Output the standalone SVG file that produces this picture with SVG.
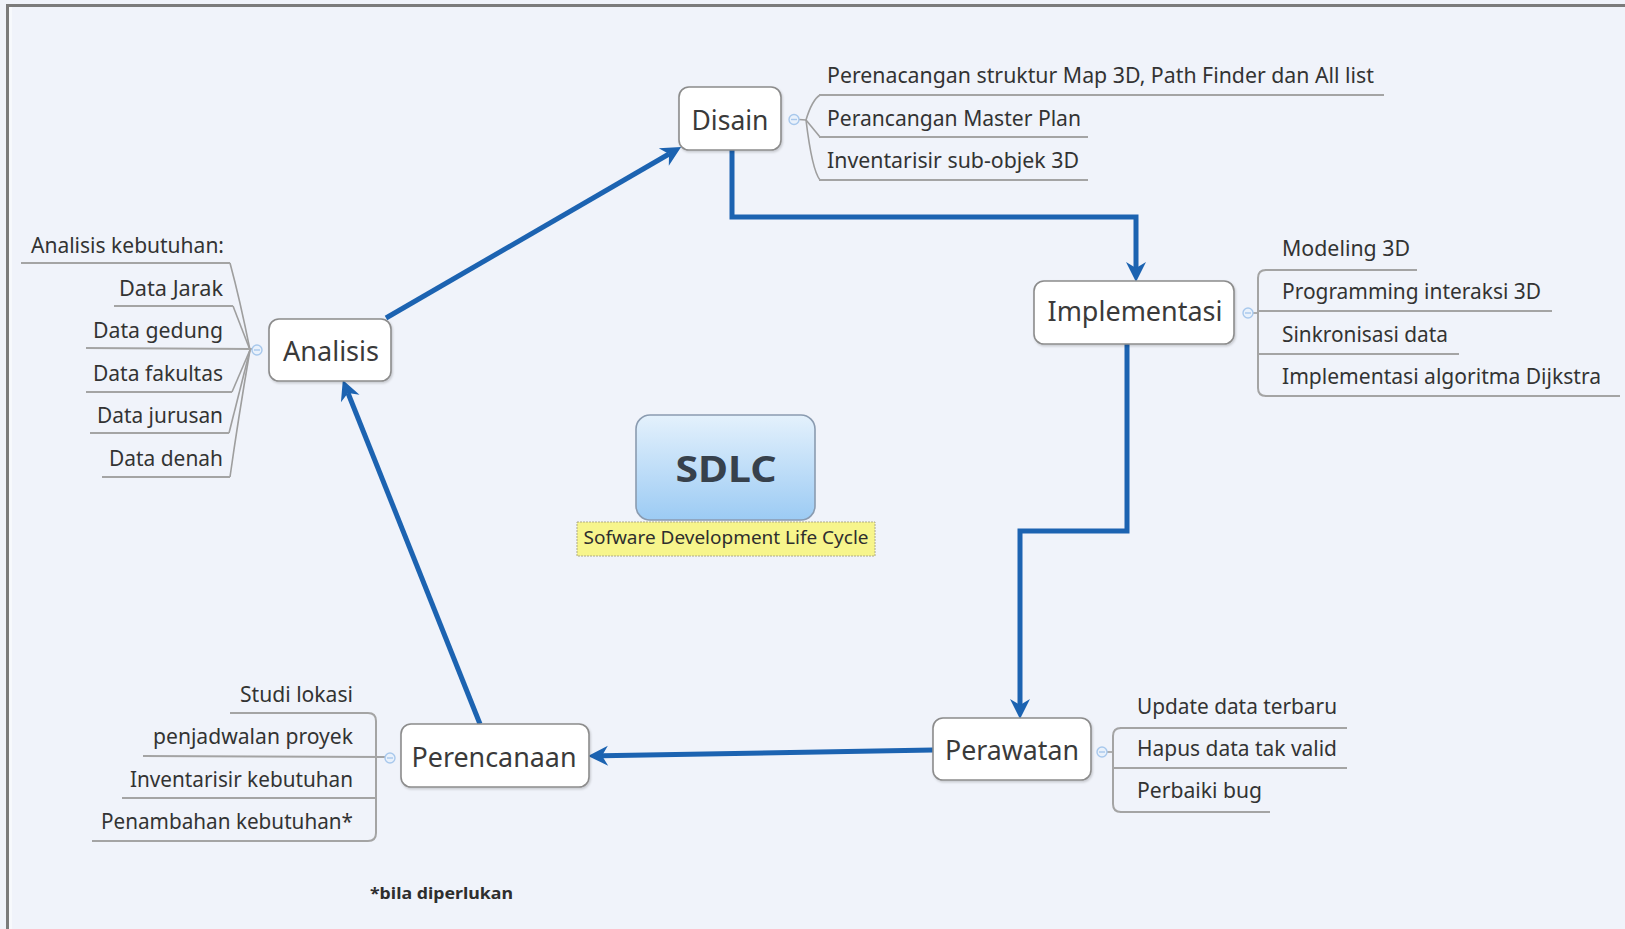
<svg xmlns="http://www.w3.org/2000/svg" width="1625" height="929" viewBox="0 0 1625 929">
  <style>
    .topic { fill: #ffffff; stroke: #8c8c8c; stroke-width: 1.6; filter: url(#shadow); }
    .topic-text { font-family: "Noto Sans", "Open Sans", sans-serif; font-size: 27px; fill: #3a3a3a; text-anchor: middle; }
    .item { font-family: "Noto Sans", "Open Sans", sans-serif; font-size: 21px; fill: #333333; }
    .item-r { text-anchor: end; }
    .branch { fill: none; stroke: #9e9e9e; stroke-width: 1.6; }
    .under { fill: none; stroke: #a4a4a4; stroke-width: 2; }
    .toggle { fill: #e9f1fb; stroke: #a8c8ec; stroke-width: 1.4; }
    .toggle-bar { stroke: #a8c8ec; stroke-width: 1.4; }
    .conn { fill: none; stroke: #1c63b1; stroke-width: 5; stroke-linejoin: miter; marker-end: url(#arrow); }
  </style>
  <defs>
    <marker id="arrow" markerUnits="userSpaceOnUse" markerWidth="20" markerHeight="20" refX="6" refY="10" orient="auto" overflow="visible">
      <path d="M0,0 L20,10 L0,20 L6,10 Z" fill="#1c63b1"/>
    </marker>
    <linearGradient id="sdlcFill" x1="0" y1="0" x2="0" y2="1">
      <stop offset="0" stop-color="#e4f1fc"/>
      <stop offset="1" stop-color="#9ccbf4"/>
    </linearGradient>
    <filter id="shadow" x="-10%" y="-10%" width="125%" height="130%">
      <feDropShadow dx="1" dy="1.5" stdDeviation="1.2" flood-color="#000000" flood-opacity="0.18"/>
    </filter>
  </defs>

  <!-- canvas and window frame -->
  <rect x="0" y="0" width="1625" height="929" fill="#f0f3fa"/>
  <line x1="6" y1="5.5" x2="1625" y2="5.5" stroke="#7b7b7b" stroke-width="3"/>
  <line x1="7.5" y1="4" x2="7.5" y2="929" stroke="#7b7b7b" stroke-width="3"/>
  <line x1="10.5" y1="7" x2="10.5" y2="929" stroke="#f7f9fc" stroke-width="3"/>

  <!-- cycle connectors -->
  <g id="connectors">
    <path class="conn" d="M386,318 L669,154"/>
    <path class="conn" d="M732,150 V217 H1136 V268"/>
    <path class="conn" d="M1127,344 V531 H1020 V705"/>
    <path class="conn" d="M933,750 L602,755.8"/>
    <path class="conn" d="M480,724 L348,393"/>
  </g>

  <!-- central topic -->
  <g id="sdlc">
    <rect x="636" y="415" width="179" height="105" rx="14" fill="url(#sdlcFill)" stroke="#8a9bb0" stroke-width="1.6"/>
    <text x="726" y="482" font-family="Noto Sans, Open Sans, sans-serif" font-size="36" font-weight="bold" fill="#37414c" text-anchor="middle" textLength="101" lengthAdjust="spacingAndGlyphs">SDLC</text>
    <rect x="577" y="522" width="298" height="34" fill="#f7f58c" stroke="#aeaa86" stroke-width="1" stroke-dasharray="2 1"/>
    <text x="726" y="544" font-family="Noto Sans, Open Sans, sans-serif" font-size="18" fill="#2e2e2e" text-anchor="middle" textLength="285" lengthAdjust="spacingAndGlyphs">Sofware Development Life Cycle</text>
  </g>

  <!-- Disain -->
  <g id="disain">
    <rect class="topic" x="679" y="87" width="102" height="63" rx="10"/>
    <text class="topic-text" x="730" y="130" textLength="77" lengthAdjust="spacingAndGlyphs">Disain</text>
    <line class="branch" x1="799" y1="119.5" x2="806" y2="120"/>
    <path class="branch" d="M806,120 Q812,100 820,95"/>
    <path class="branch" d="M806,120 L820,137"/>
    <path class="branch" d="M806,120 Q812,170 820,180"/>
    <circle class="toggle" cx="794" cy="119.5" r="5"/>
    <line class="toggle-bar" x1="791" y1="119.5" x2="797" y2="119.5"/>
    <line class="under" x1="819" y1="95" x2="1384" y2="95"/>
    <line class="under" x1="819" y1="137" x2="1088" y2="137"/>
    <line class="under" x1="819" y1="180" x2="1088" y2="180"/>
    <text class="item" x="827" y="83" textLength="547" lengthAdjust="spacingAndGlyphs">Perenacangan struktur Map 3D, Path Finder dan All list</text>
    <text class="item" x="827" y="125.5" textLength="254" lengthAdjust="spacingAndGlyphs">Perancangan Master Plan</text>
    <text class="item" x="827" y="168" textLength="252" lengthAdjust="spacingAndGlyphs">Inventarisir sub-objek 3D</text>
  </g>

  <!-- Analisis -->
  <g id="analisis">
    <rect class="topic" x="269" y="319" width="122" height="62" rx="10"/>
    <text class="topic-text" x="331" y="361" textLength="96" lengthAdjust="spacingAndGlyphs">Analisis</text>
    <path class="branch" d="M250,350 Q240,300 230,263"/>
    <path class="branch" d="M250,350 L233,306"/>
    <path class="branch" d="M250,350 L232,392"/>
    <path class="branch" d="M250,350 L229,433"/>
    <path class="branch" d="M250,350 Q238,420 230,477"/>
    <line class="under" x1="21" y1="263" x2="230" y2="263"/>
    <line class="under" x1="114" y1="306" x2="233" y2="306"/>
    <line class="under" x1="86" y1="348" x2="252" y2="349"/>
    <line class="under" x1="86" y1="392" x2="232" y2="392"/>
    <line class="under" x1="90" y1="433" x2="229" y2="433"/>
    <line class="under" x1="102" y1="477" x2="230" y2="477"/>
    <circle class="toggle" cx="257" cy="350" r="5"/>
    <line class="toggle-bar" x1="254" y1="350" x2="260" y2="350"/>
    <text class="item item-r" x="224" y="253" textLength="193" lengthAdjust="spacingAndGlyphs">Analisis kebutuhan:</text>
    <text class="item item-r" x="223" y="296" textLength="104" lengthAdjust="spacingAndGlyphs">Data Jarak</text>
    <text class="item item-r" x="223" y="338" textLength="130" lengthAdjust="spacingAndGlyphs">Data gedung</text>
    <text class="item item-r" x="223" y="381" textLength="130" lengthAdjust="spacingAndGlyphs">Data fakultas</text>
    <text class="item item-r" x="223" y="423" textLength="126" lengthAdjust="spacingAndGlyphs">Data jurusan</text>
    <text class="item item-r" x="223" y="466" textLength="114" lengthAdjust="spacingAndGlyphs">Data denah</text>
  </g>

  <!-- Implementasi -->
  <g id="implementasi">
    <rect class="topic" x="1034" y="281" width="200" height="63" rx="10"/>
    <text class="topic-text" x="1135" y="321" textLength="175" lengthAdjust="spacingAndGlyphs">Implementasi</text>
    <line class="branch" x1="1253" y1="313" x2="1258" y2="313"/>
    <path class="under" d="M1266,270 Q1258,270 1258,278 V388 Q1258,396 1266,396"/>
    <circle class="toggle" cx="1248" cy="313" r="5"/>
    <line class="toggle-bar" x1="1245" y1="313" x2="1251" y2="313"/>
    <line class="under" x1="1265" y1="270" x2="1417" y2="270"/>
    <line class="under" x1="1258" y1="311" x2="1552" y2="311"/>
    <line class="under" x1="1258" y1="354" x2="1459" y2="354"/>
    <line class="under" x1="1265" y1="396" x2="1620" y2="396"/>
    <text class="item" x="1282" y="256" textLength="128" lengthAdjust="spacingAndGlyphs">Modeling 3D</text>
    <text class="item" x="1282" y="298.5" textLength="259" lengthAdjust="spacingAndGlyphs">Programming interaksi 3D</text>
    <text class="item" x="1282" y="342" textLength="166" lengthAdjust="spacingAndGlyphs">Sinkronisasi data</text>
    <text class="item" x="1282" y="383.5" textLength="319" lengthAdjust="spacingAndGlyphs">Implementasi algoritma Dijkstra</text>
  </g>

  <!-- Perawatan -->
  <g id="perawatan">
    <rect class="topic" x="933" y="718" width="158" height="62" rx="10"/>
    <text class="topic-text" x="1012" y="760" textLength="134" lengthAdjust="spacingAndGlyphs">Perawatan</text>
    <line class="branch" x1="1107" y1="752" x2="1113" y2="752"/>
    <path class="under" d="M1121,728 Q1113,728 1113,736 V804 Q1113,812 1121,812"/>
    <circle class="toggle" cx="1102" cy="752" r="5"/>
    <line class="toggle-bar" x1="1099" y1="752" x2="1105" y2="752"/>
    <line class="under" x1="1120" y1="728" x2="1347" y2="728"/>
    <line class="under" x1="1113" y1="768" x2="1347" y2="768"/>
    <line class="under" x1="1120" y1="812" x2="1270" y2="812"/>
    <text class="item" x="1137" y="714" textLength="200" lengthAdjust="spacingAndGlyphs">Update data terbaru</text>
    <text class="item" x="1137" y="756" textLength="200" lengthAdjust="spacingAndGlyphs">Hapus data tak valid</text>
    <text class="item" x="1137" y="798" textLength="125" lengthAdjust="spacingAndGlyphs">Perbaiki bug</text>
  </g>

  <!-- Perencanaan -->
  <g id="perencanaan">
    <rect class="topic" x="401" y="724" width="188" height="63" rx="10"/>
    <text class="topic-text" x="494" y="767" textLength="165" lengthAdjust="spacingAndGlyphs">Perencanaan</text>
    <path class="under" d="M230,713 H368 Q376,713 376,721 V833 Q376,841 368,841 H92"/>
    <line class="under" x1="143" y1="756" x2="385" y2="757"/>
    <line class="under" x1="122" y1="798" x2="376" y2="798"/>
    <circle class="toggle" cx="390" cy="758" r="5"/>
    <line class="toggle-bar" x1="387" y1="758" x2="393" y2="758"/>
    <text class="item item-r" x="353" y="702" textLength="113" lengthAdjust="spacingAndGlyphs">Studi lokasi</text>
    <text class="item item-r" x="353" y="744" textLength="200" lengthAdjust="spacingAndGlyphs">penjadwalan proyek</text>
    <text class="item item-r" x="353" y="787" textLength="223" lengthAdjust="spacingAndGlyphs">Inventarisir kebutuhan</text>
    <text class="item item-r" x="353" y="829" textLength="252" lengthAdjust="spacingAndGlyphs">Penambahan kebutuhan*</text>
  </g>

  <!-- footnote -->
  <text x="370" y="899" font-family="Noto Sans, Open Sans, sans-serif" font-size="16" font-weight="bold" fill="#2e2e2e" textLength="143" lengthAdjust="spacingAndGlyphs">*bila diperlukan</text>
</svg>
